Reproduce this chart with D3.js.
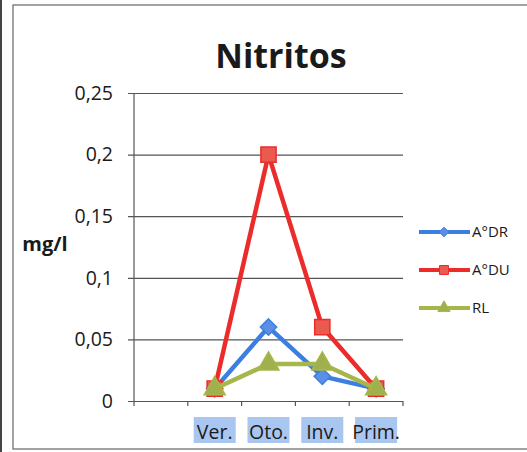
<!DOCTYPE html>
<html>
<head>
<meta charset="utf-8">
<script src="https://cdn.jsdelivr.net/npm/d3@7"></script>
<style>
  body { margin: 0; background: #fdfdfd; }
  text { font-family: "Open Sans", "Noto Sans", sans-serif; fill: #1a1a1a; }
</style>
</head>
<body>
<div id="chart"></div>
<script>
const categories = ["", "Ver.", "Oto.", "Inv.", "Prim."];
const seasons = ["Ver.", "Oto.", "Inv.", "Prim."];
const drValues = [0.01, 0.06, 0.02, 0.01];
const duValues = [0.01, 0.2, 0.06, 0.01];
const rlValues = [0.01, 0.03, 0.03, 0.01];
const yTicks = [0, 0.05, 0.1, 0.15, 0.2, 0.25];

const series = [
  { name: "A°DR", values: drValues, color: "#3d7fe0", fill: "#5b8fe6", symbol: d3.symbolDiamond2, size: 170 },
  { name: "A°DU", values: duValues, color: "#ec2b2b", fill: "#ea5a4f", symbol: d3.symbolSquare, size: 230 },
  { name: "RL", values: rlValues, color: "#a6b64a", fill: "#a0b04e", symbol: d3.symbolTriangle, size: 190 }
];

const W = 527, H = 452;
const PLOT = { LEFT: 134, RIGHT: 403, TOP: 93, BOTTOM: 401 };

const svg = d3.select("#chart").append("svg")
  .attr("width", W).attr("height", H);

// outer frame
svg.append("rect").attr("x", 13).attr("y", 5).attr("width", 530).attr("height", 444)
  .attr("fill", "#fff").attr("stroke", "#666").attr("stroke-width", 1.2);
svg.append("line").attr("x1", 1).attr("x2", 1).attr("y1", 0).attr("y2", H)
  .attr("stroke", "#444").attr("stroke-width", 2);

const x = d3.scaleBand().domain(categories).range([PLOT.LEFT, PLOT.RIGHT]).padding(0);
const y = d3.scaleLinear().domain([0, 0.25]).range([PLOT.BOTTOM, PLOT.TOP]);
const cx = (c) => x(c) + x.bandwidth() / 2;

// title
svg.append("text").attr("x", 281).attr("y", 68).attr("text-anchor", "middle")
  .attr("font-size", 34).attr("font-weight", "bold").text("Nitritos");

// gridlines + y axis
const yAxis = d3.axisLeft(y).tickValues(yTicks)
  .tickFormat((d) => String(d).replace(".", ","))
  .tickSize(-(PLOT.RIGHT - PLOT.LEFT + 6)).tickPadding(15);
const yg = svg.append("g").attr("transform", `translate(${PLOT.LEFT - 6},0)`).call(yAxis);
yg.select(".domain").remove();
yg.selectAll(".tick line").attr("stroke", "#555").attr("stroke-width", 1.2);
yg.selectAll(".tick text").attr("font-size", 19.5).attr("fill", "#1a1a1a");
svg.append("line").attr("x1", PLOT.LEFT).attr("x2", PLOT.LEFT)
  .attr("y1", PLOT.TOP).attr("y2", PLOT.BOTTOM + 5).attr("stroke", "#555").attr("stroke-width", 1.2);

svg.append("text").attr("x", 45).attr("y", 251).attr("text-anchor", "middle")
  .attr("font-size", 20).attr("font-weight", "bold").text("mg/l");

// x axis ticks at category boundaries
const bounds = categories.slice(1).map((c) => x(c)).concat([PLOT.RIGHT]);
svg.selectAll(".xtick").data(bounds).join("line").attr("class", "xtick")
  .attr("x1", (d) => d).attr("x2", (d) => d)
  .attr("y1", PLOT.BOTTOM).attr("y2", PLOT.BOTTOM + 5)
  .attr("stroke", "#555").attr("stroke-width", 1.2);

// highlighted x labels
const labelG = svg.append("g");
labelG.selectAll("rect").data(seasons).join("rect")
  .attr("x", (d) => cx(d) - 21).attr("y", 417)
  .attr("width", 42).attr("height", 26)
  .attr("fill", "#a9c6f0");
const xAxis = d3.axisBottom(x).tickValues(seasons).tickSize(0).tickPadding(0);
const xg = svg.append("g").attr("transform", `translate(0,${PLOT.BOTTOM})`).call(xAxis);
xg.select(".domain").remove();
xg.selectAll(".tick text").attr("font-size", 19.5).attr("dy", 0).attr("y", 38).attr("fill", "#1a1a1a");

// lines and markers
const line = d3.line().x((d, i) => cx(seasons[i])).y((d) => y(d));
series.forEach((s) => {
  svg.append("path").datum(s.values).attr("d", line)
    .attr("fill", "none").attr("stroke", s.color).attr("stroke-width", 4.5)
    .attr("stroke-linejoin", "round");
  svg.selectAll(null).data(s.values).join("path")
    .attr("transform", (d, i) => `translate(${cx(seasons[i])},${y(d)})`)
    .attr("d", d3.symbol().type(s.symbol).size(s.size))
    .attr("fill", s.fill).attr("stroke", s.color).attr("stroke-width", 1.5);
});

// legend
const legend = svg.append("g");
series.forEach((s, i) => {
  const ly = 232 + i * 38;
  legend.append("line").attr("x1", 419).attr("x2", 470).attr("y1", ly).attr("y2", ly)
    .attr("stroke", s.color).attr("stroke-width", 4);
  legend.append("path").attr("transform", `translate(444,${ly})`)
    .attr("d", d3.symbol().type(s.symbol).size(s.size * 0.35))
    .attr("fill", s.fill).attr("stroke", s.color);
  legend.append("text").attr("x", 472).attr("y", ly + 5).attr("font-size", 15).text(s.name);
});
</script>
</body>
</html>
